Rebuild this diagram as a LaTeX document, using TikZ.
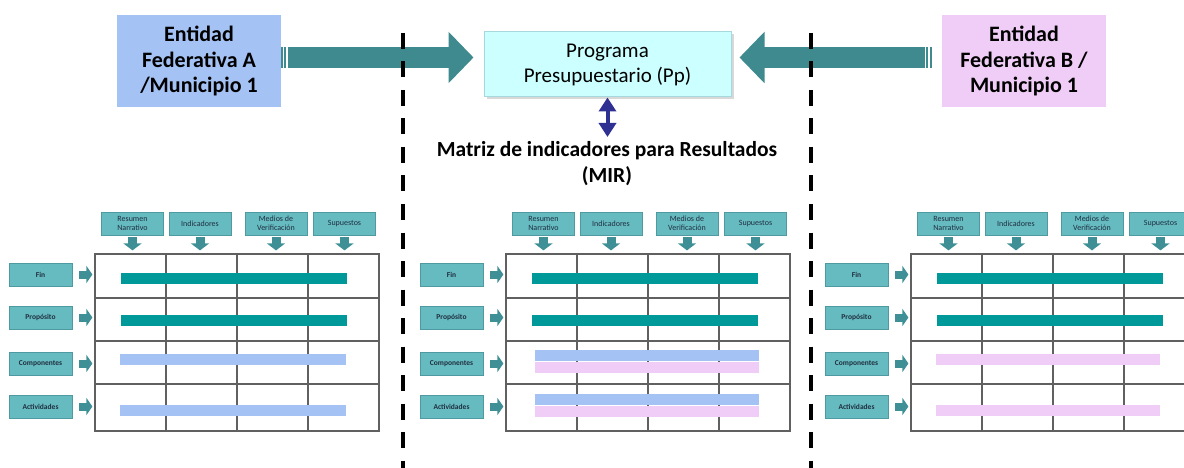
\documentclass[tikz,border=0pt]{standalone}
\usepackage{fontspec}
\setmainfont{Carlito}
\usetikzlibrary{arrows.meta,positioning,shadows}
\definecolor{arrowteal}{HTML}{3E8A8F}
\definecolor{barteal}{HTML}{009999}
\definecolor{entblue}{HTML}{A4C2F4}
\definecolor{entpink}{HTML}{F0CDF6}
\definecolor{progcyan}{HTML}{CCFFFF}
\definecolor{progline}{HTML}{A6D9DD}
\definecolor{mirnavy}{HTML}{2E3192}
\definecolor{hdrfill}{HTML}{66BBC1}
\definecolor{hdrline}{HTML}{4E9AA0}
\definecolor{gridline}{HTML}{606060}
\definecolor{smalltxt}{HTML}{1F2F3F}
\definecolor{smallarr}{HTML}{3F9096}
\tikzset{
  box/.style={align=center, inner sep=0pt, minimum width=164pt, minimum height=92pt,
              font=\bfseries\fontsize{22}{25.5}\selectfont},
  bluebox/.style={box, fill=entblue},
  pinkbox/.style={box, fill=entpink},
  progbox/.style={align=center, inner sep=0pt, fill=progcyan, draw=progline, line width=1pt,
              minimum width=247pt, minimum height=65pt, font=\fontsize{21}{25}\selectfont,
              drop shadow={shadow xshift=2.5pt, shadow yshift=-2.5pt, fill=black!30}},
  ar/.style={-{Triangle[length=25pt,width=50pt]}, line width=21pt, draw=arrowteal},
  stripe/.style={line width=1.7pt, draw=arrowteal},
  dblar/.style={{Triangle[length=14pt,width=17pt]}-{Triangle[length=14pt,width=17pt]},
              line width=4pt, draw=mirnavy},
  divider/.style={line width=3.5pt, dash pattern=on 16pt off 12.5pt},
  hdrbox/.style={fill=hdrfill, draw=hdrline, line width=0.8pt, minimum height=23pt,
              inner sep=0pt, align=center, text=smalltxt, font=\fontsize{8}{9}\selectfont},
  rowbox/.style={hdrbox, minimum width=63pt, font=\bfseries\fontsize{7.5}{9}\selectfont},
  arsm/.style={-{Triangle[length=7pt,width=18pt]}, line width=9pt, draw=smallarr},
  gridbox/.style={draw=gridline, line width=1.2pt, minimum width=284pt, minimum height=177pt,
              inner sep=0pt},
  cellline/.style={draw=gridline, line width=1.2pt},
  lbl/.style={font=\bfseries\fontsize{21.5}{26}\selectfont, align=center, inner sep=0pt}
}

\begin{document}
\begin{tikzpicture}[x=1pt,y=-1pt]
  \useasboundingbox (0,0) rectangle (1184,468);
  \clip (0,0) rectangle (1184,468);

  % top row
  \node[bluebox] (entA) at (199,61) {Entidad\\Federativa A\\/Municipio 1};
  \node[pinkbox] (entB) at (1024,61) {Entidad\\Federativa B /\\Municipio 1};
  \node[progbox] (prog) at (607.5,64.5) {Programa\\Presupuestario (Pp)};

  % arrows into the programme
  \coordinate (aTail) at (288,57.5);
  \coordinate (bTail) at (925,57.5);
  \draw[ar] (aTail) -- ([xshift=-10pt]prog.west |- aTail);
  \draw[ar] (bTail) -- ([xshift=8pt]prog.east |- bTail);
  \draw[stripe] ([xshift=-6.2pt]aTail) ++(0,-10.5) -- ++(0,21);
  \draw[stripe] ([xshift=-2.8pt]aTail) ++(0,-10.5) -- ++(0,21);
  \draw[stripe] ([xshift=2.2pt]bTail) ++(0,-10.5) -- ++(0,21);
  \draw[stripe] ([xshift=6.2pt]bTail) ++(0,-10.5) -- ++(0,21);

  % dashed dividers
  \draw[divider] (403,33) -- (403,468);
  \draw[divider] (811,33) -- (811,468);

  % MIR label
  \node[lbl, anchor=north] (mir) at (607,141.5) {Matriz de indicadores para Resultados\\(MIR)};
  \draw[dblar] (prog.south) -- ([yshift=4.5pt]prog.south |- mir.north);

  % the three matrices
  \foreach \m/\dx in {a/0, b/411, c/816} {
    \begin{scope}[xshift=\dx pt]
      \node[gridbox] (\m-grid) at (237,342.5) {};
      \foreach \yy in {298,341,384} \draw[cellline] (95,\yy) -- (379,\yy);
      \foreach \xx in {166,237,308} \draw[cellline] (\xx,254) -- (\xx,431);
      \foreach \cx/\n/\t in {132.5/res/{Resumen\\Narrativo}, 200/ind/Indicadores,
                             276/med/{Medios de\\Verificación}, 344.5/sup/Supuestos} {
        \node[hdrbox, minimum width=62pt] (\m-\n) at (\cx,223.5) {\t};
        \draw[arsm] ([yshift=-2pt]\m-\n.south) -- ([yshift=3pt]\m-\n.south |- \m-grid.north);
      }
      \foreach \cy/\n/\t in {274.5/fin/Fin, 317.5/pro/Propósito,
                             363.5/com/Componentes, 406.5/act/Actividades} {
        \node[rowbox] (\m-\n) at (40.5,\cy) {\t};
        \draw[arsm, -{Triangle[length=6pt,width=17pt]}, line width=8pt]
          ([xshift=7pt]\m-\n.east) -- ([xshift=-2pt]\m-\n.east -| \m-grid.west);
      }
      \fill[barteal] (121,273) rectangle (347,284);
      \fill[barteal] (121,315) rectangle (347,326);
    \end{scope}
  }

  % lower bars
  \fill[entblue] (120,354) rectangle (346,365);
  \fill[entblue] (120,405) rectangle (346,416);
  \fill[entblue] (535,350) rectangle (759,361);
  \fill[entpink] (535,362) rectangle (759,373);
  \fill[entblue] (535,394) rectangle (759,405);
  \fill[entpink] (535,406) rectangle (759,417);
  \fill[entpink] (936,354) rectangle (1160,365);
  \fill[entpink] (936,405) rectangle (1160,416);
\end{tikzpicture}
\end{document}
